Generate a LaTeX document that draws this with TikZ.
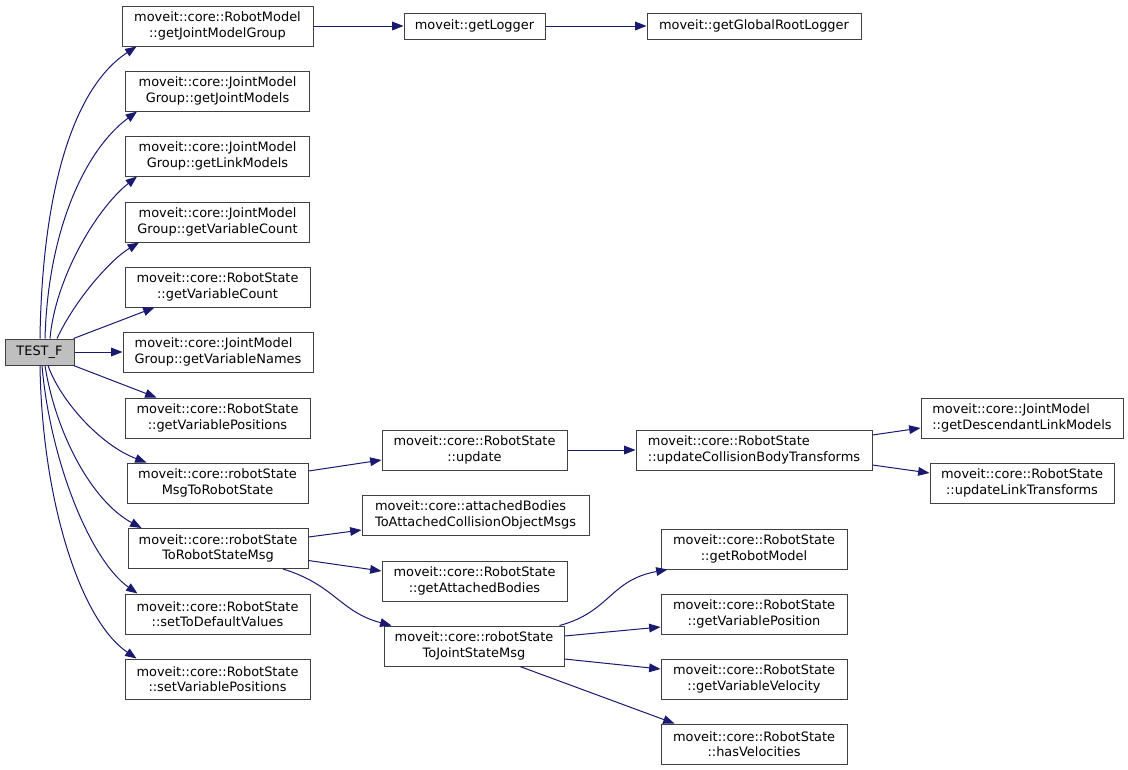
\documentclass[tikz,border=0pt]{standalone}
\usepackage{fontspec}
\setmainfont{DejaVu Sans}
\usetikzlibrary{arrows.meta,calc}
\definecolor{edgeblue}{HTML}{191970}
\definecolor{boxline}{HTML}{404040}
\definecolor{rootfill}{HTML}{BFBFBF}
\begin{document}
\begin{tikzpicture}[x=0.75pt,y=-0.75pt,
  fn/.style={draw=boxline, line width=0.75pt, fill=white, inner sep=0pt, align=center,
             font=\fontsize{9.7}{11.5}\selectfont},
  sz/.style 2 args={minimum width=#1*0.75pt, minimum height=#2*0.75pt},
  edge/.style={draw=edgeblue, line width=0.75pt, -{Triangle[length=8.5pt,width=6.5pt]}}]
\useasboundingbox[fill=white] (0,0) rectangle (1128,769);

% left column
\node[fn,sz={69}{26},fill=rootfill] (T) at (39.5,352) {TEST\_F};
\node[fn,sz={191}{40}] (n1) at (217.5,26) {moveit::core::RobotModel\\::getJointModelGroup};
\node[fn,sz={184}{40}] (n2) at (217.5,91) {moveit::core::JointModel\\Group::getJointModels};
\node[fn,sz={184}{40}] (n3) at (217.5,156) {moveit::core::JointModel\\Group::getLinkModels};
\node[fn,sz={184}{40}] (n4) at (217.5,222) {moveit::core::JointModel\\Group::getVariableCount};
\node[fn,sz={185}{40}] (n5) at (217.5,287) {moveit::core::RobotState\\::getVariableCount};
\node[fn,sz={190}{40},align=left] (n6) at (218,352) {moveit::core::JointModel\\Group::getVariableNames};
\node[fn,sz={185}{40}] (n7) at (217.5,418) {moveit::core::RobotState\\::getVariablePositions};
\node[fn,sz={181}{40}] (n8) at (217.5,483) {moveit::core::robotState\\MsgToRobotState};
\node[fn,sz={180}{40}] (n9) at (218,548.5) {moveit::core::robotState\\ToRobotStateMsg};
\node[fn,sz={185}{40}] (n10) at (217.5,614) {moveit::core::RobotState\\::setToDefaultValues};
\node[fn,sz={185}{40}] (n11) at (217.5,679) {moveit::core::RobotState\\::setVariablePositions};

% top row
\node[fn,sz={141}{26}] (lg) at (474.5,26) {moveit::getLogger};
\node[fn,sz={214}{26}] (grl) at (754,26) {moveit::getGlobalRootLogger};

% middle column
\node[fn,sz={185}{40}] (upd) at (474.5,450) {moveit::core::RobotState\\::update};
\node[fn,sz={227}{40},align=left] (abm) at (475.5,515) {moveit::core::attachedBodies\\ToAttachedCollisionObjectMsgs};
\node[fn,sz={185}{40}] (gab) at (474.5,581) {moveit::core::RobotState\\::getAttachedBodies};
\node[fn,sz={180}{40}] (jsm) at (474,646) {moveit::core::robotState\\ToJointStateMsg};

% right columns
\node[fn,sz={236}{40},align=left] (ucb) at (754,450) {moveit::core::RobotState\\::updateCollisionBodyTransforms};
\node[fn,sz={202}{40},align=left] (gdl) at (1022,418) {moveit::core::JointModel\\::getDescendantLinkModels};
\node[fn,sz={184}{40}] (ult) at (1022,483) {moveit::core::RobotState\\::updateLinkTransforms};
\node[fn,sz={186}{40}] (grm) at (754,549) {moveit::core::RobotState\\::getRobotModel};
\node[fn,sz={186}{40}] (gvp) at (754,614) {moveit::core::RobotState\\::getVariablePosition};
\node[fn,sz={186}{40}] (gvv) at (754,679) {moveit::core::RobotState\\::getVariableVelocity};
\node[fn,sz={186}{40}] (hv) at (754,744) {moveit::core::RobotState\\::hasVelocities};

% edges from TEST_F
\draw[edge] ($(T.north)+(0.5,0)$) .. controls (42,200) and (70,90) .. ($(n1.south west)+(15,0)$);
\draw[edge] ($(T.north)+(5.5,0)$) .. controls (48,230) and (85,150) .. ($(n2.south west)+(12,0)$);
\draw[edge] ($(T.north)+(10.5,0)$) .. controls (55,280) and (95,210) .. ($(n3.south west)+(12,0)$);
\draw[edge] ($(T.north)+(17.5,0)$) .. controls (75,300) and (110,260) .. ($(n4.south west)+(14,0)$);
\draw[edge] ($(T.north east)+(-1,0)$) -- ($(n5.south west)+(30,0)$);
\draw[edge] (T.east) -- (n6.west);
\draw[edge] ($(T.south east)+(-1,0)$) -- ($(n7.north west)+(32,0)$);
\draw[edge] ($(T.south)+(8.5,0)$) .. controls (60,400) and (100,445) .. ($(n8.north west)+(20,0)$);
\draw[edge] ($(T.south)+(5.5,0)$) .. controls (55,430) and (90,500) .. ($(n9.north west)+(14,0)$);
\draw[edge] ($(T.south)+(2.5,0)$) .. controls (50,460) and (90,560) .. ($(n10.north west)+(13,0)$);
\draw[edge] ($(T.south)+(0.5,0)$) .. controls (42,500) and (80,620) .. ($(n11.north west)+(12,0)$);

% other edges
\draw[edge] (n1.east) -- (lg.west);
\draw[edge] (lg.east) -- (grl.west);
\draw[edge] ($(n8.east)+(0,-12)$) -- ($(upd.west)+(0,10)$);
\draw[edge] (upd.east) -- (ucb.west);
\draw[edge] ($(ucb.east)+(0,-15)$) -- ($(gdl.west)+(0,10)$);
\draw[edge] ($(ucb.east)+(0,15)$) -- ($(ult.west)+(0,-10)$);
\draw[edge] ($(n9.east)+(0,-11.5)$) -- ($(abm.west)+(0,15)$);
\draw[edge] ($(n9.east)+(0,12)$) -- ($(gab.west)+(0,-10)$);
\draw[edge] ($(n9.south)+(65,0)$) .. controls (335,585) and (340,612) .. ($(jsm.north west)+(8,0)$);
\draw[edge] ($(jsm.north east)+(-5,0)$) .. controls (610,612) and (610,580) .. ($(grm.south west)+(7,0)$);
\draw[edge] ($(jsm.east)+(0,-10)$) -- ($(gvp.west)+(0,13)$);
\draw[edge] ($(jsm.east)+(0,13)$) -- ($(gvv.west)+(0,-10)$);
\draw[edge] ($(jsm.south)+(46,0)$) -- ($(hv.north west)+(14,0)$);
\end{tikzpicture}
\end{document}
